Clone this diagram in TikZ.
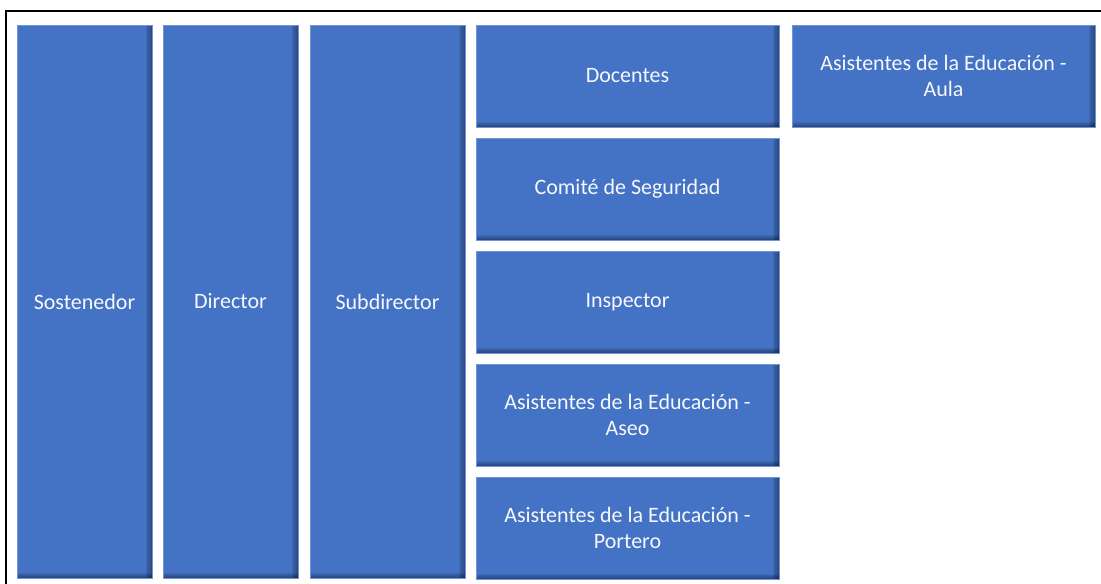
\documentclass[tikz,border=0pt]{standalone}
\usepackage{fontspec}
\setmainfont{Carlito}
\definecolor{cajazul}{HTML}{4472C4}

\tikzset{
	caja/.style={draw=cajazul!75!white, line width=0.4pt, fill=cajazul,
		text=white!95!cajazul, align=center, inner sep=0pt,
		font=\fontsize{16.5}{20}\selectfont,
		path picture={
			\foreach \k in {1,...,5} {
				\fill[black, opacity=0.08]
				([xshift=-\k*0.9pt]path picture bounding box.north east) rectangle (path picture bounding box.south east);
				\fill[black, opacity=0.08]
				([yshift=\k*0.8pt]path picture bounding box.south west) rectangle (path picture bounding box.south east);
			}
		}},
	alta/.style={caja, minimum height=414.75pt},
	baja/.style={caja, minimum width=227.25pt, minimum height=76.5pt}
}

\begin{document}
\begin{tikzpicture}[x=0.75pt, y=-0.75pt]
		
		\useasboundingbox (0,0) rectangle (1101,584);
		\clip (0,0) rectangle (1101,584);
		
		% Frame
		\draw[line width=2pt] (6,11) rectangle (1120,600);
		
		% Tall columns
		\node[alta, minimum width=101.25pt] (sost) at (84.5,301.5) {Sostenedor};
		\node[alta, minimum width=101.25pt] (dir) at (230.5,301.5) {Director};
		\node[alta, minimum width=116.25pt] (subdir) at (387.5,301.5) {Subdirector};
		
		% Stacked boxes
		\foreach \nombre/\texto [count=\i from 0] in {doc/Docentes, com/Comité de Seguridad,
			insp/Inspector, aseo/{Asistentes de la Educación -\\ Aseo},
			port/{Asistentes de la Educación -\\ Portero}} {
			\node[baja] (\nombre) at (627.5,76+113*\i) {\texto};
		}
		
		% Aula
		\node[baja] (aula) at (943.5,76) {Asistentes de la Educación -\\ Aula};
		
	\end{tikzpicture}
\end{document}
